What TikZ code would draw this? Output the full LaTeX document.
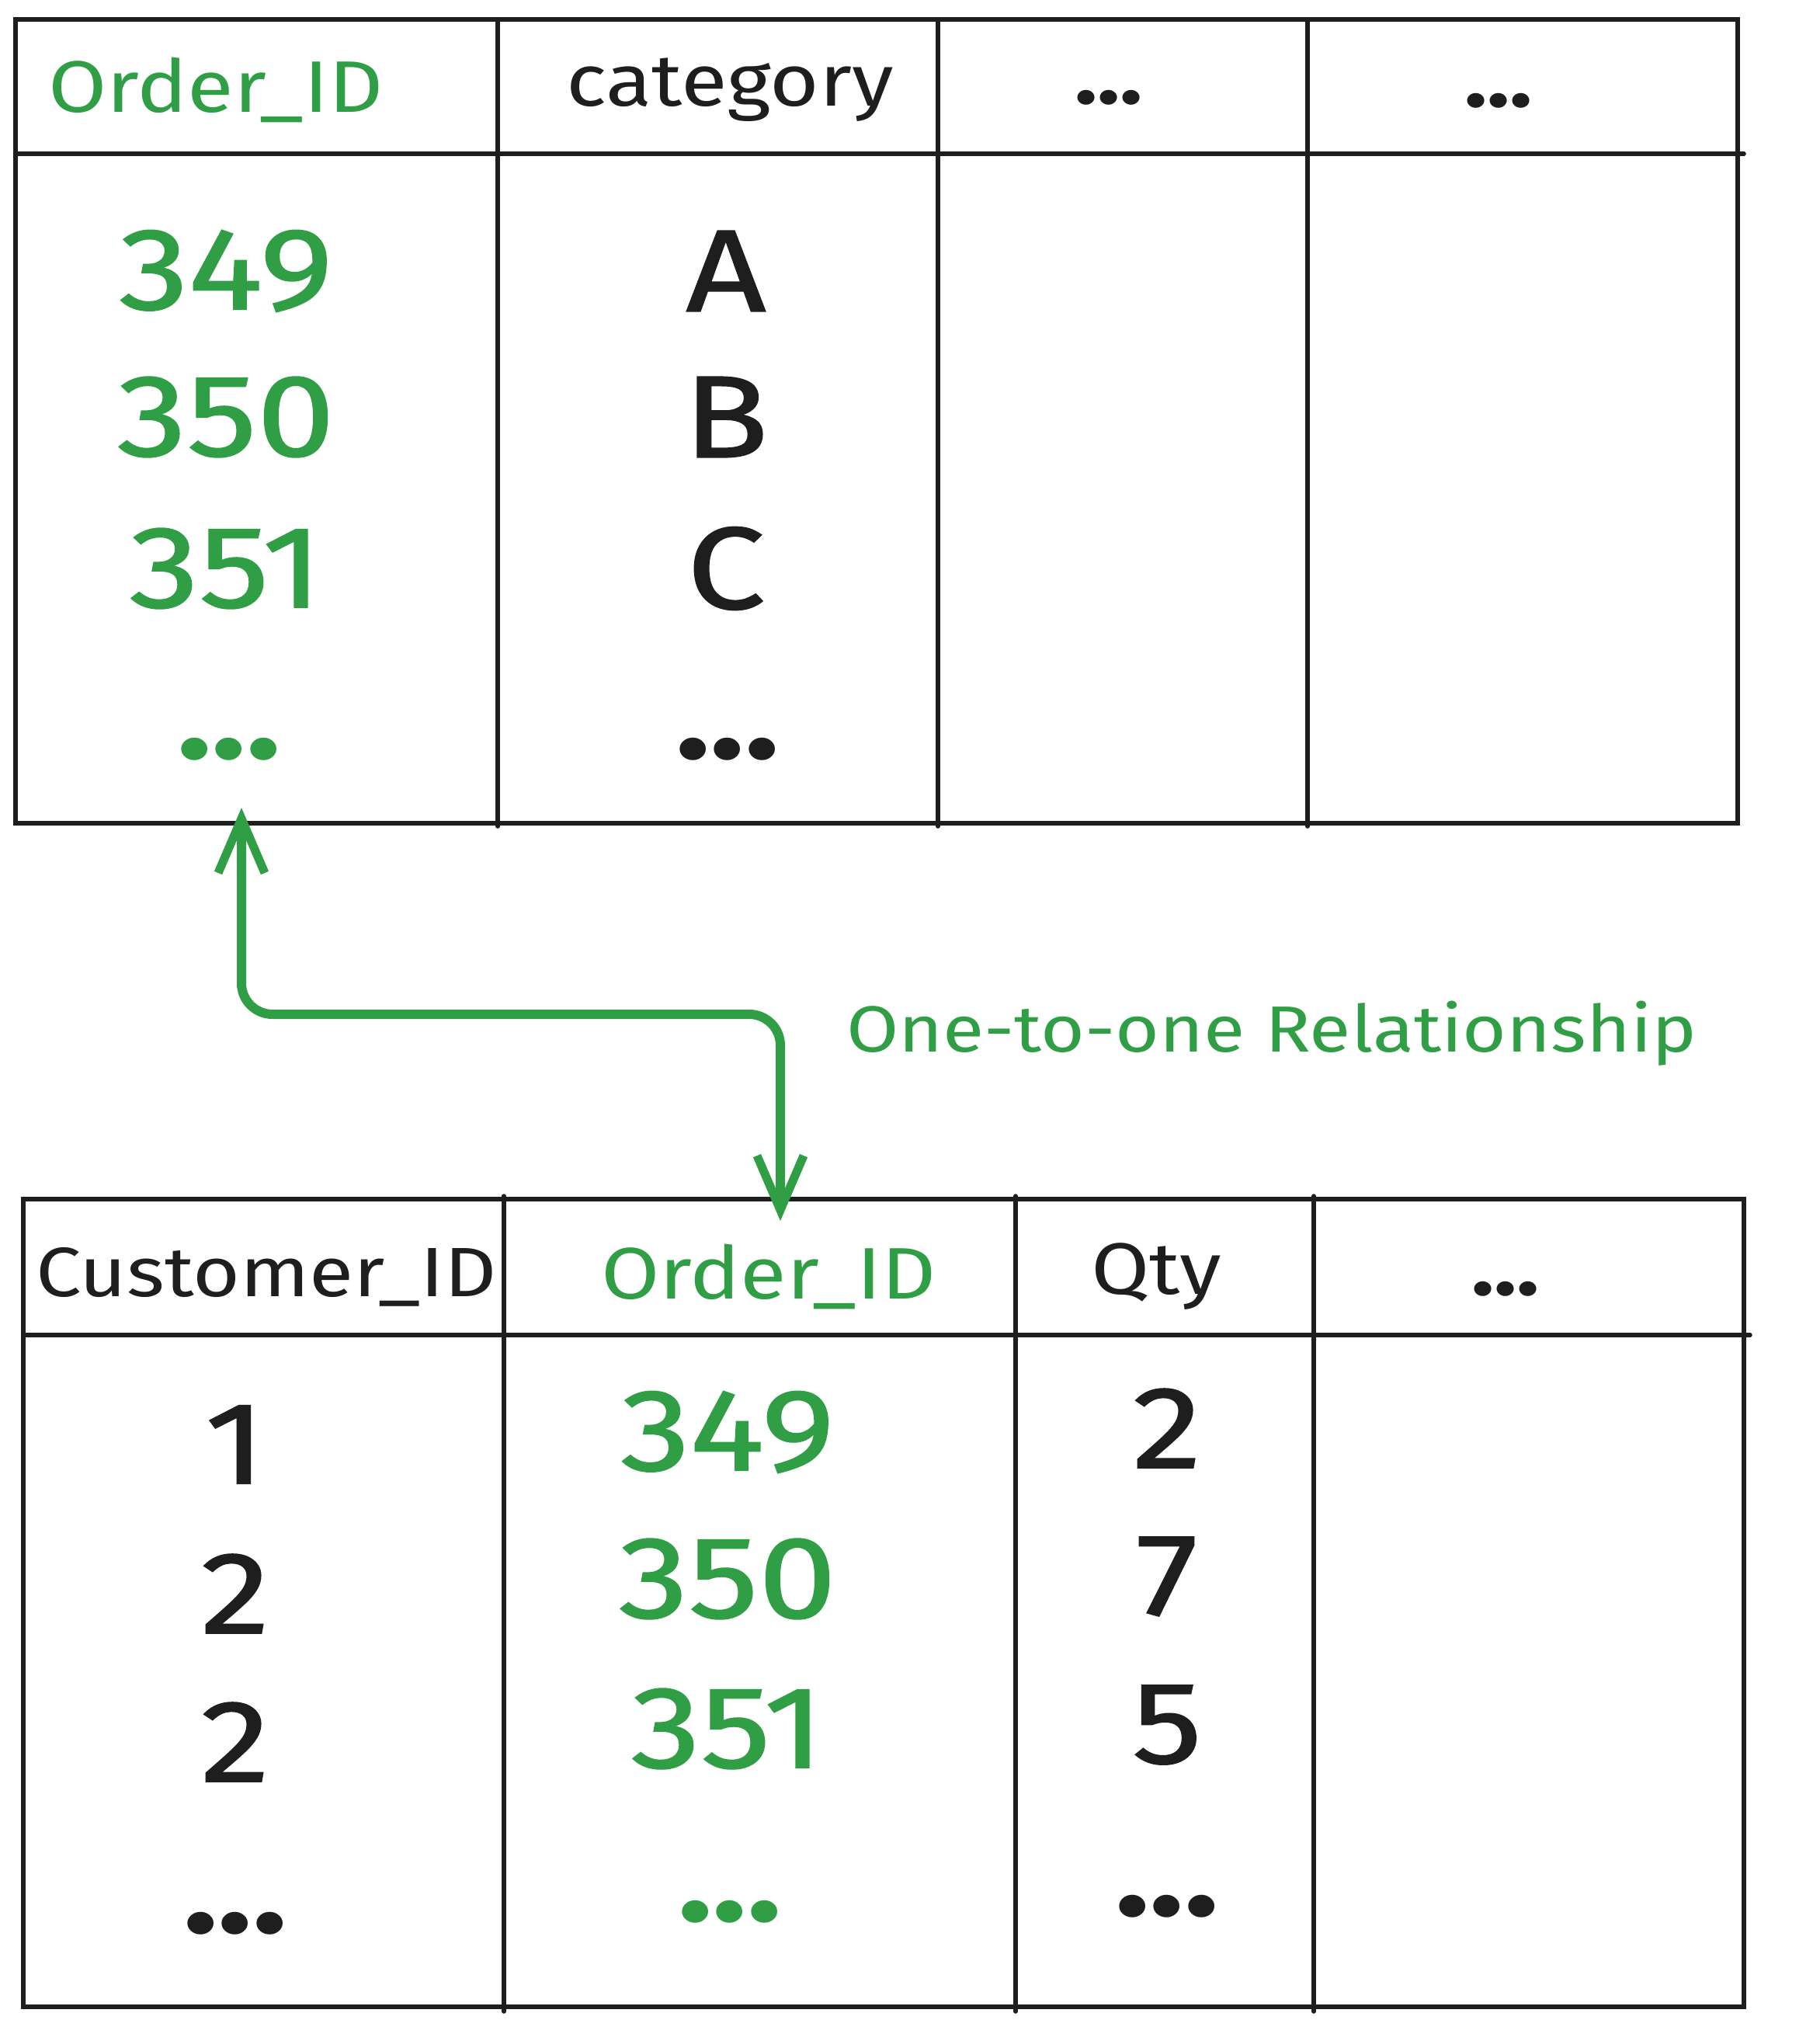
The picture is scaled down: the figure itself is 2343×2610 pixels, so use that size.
\documentclass[tikz,border=0pt]{standalone}
\usepackage{fontspec}
\setmainfont{Fira Sans}[FakeStretch=1.16]
\newfontfamily\bigfont{Fira Sans}[FakeStretch=1.2,FakeBold=1.2]
\usetikzlibrary{arrows.meta}
\definecolor{grn}{HTML}{2F9E44}
\definecolor{ink}{HTML}{1E1E1E}
\tikzset{
  grid/.style={draw=ink, line width=5.5pt, line cap=round},
  hdr/.style={inner sep=0pt, anchor=center, font=\fontsize{94}{100}\selectfont},
  big/.style={inner sep=0pt, anchor=center, font=\bigfont\fontsize{150}{160}\selectfont},
  dots/.style={inner sep=0pt, anchor=center, font=\bfseries\fontsize{160}{170}\selectfont},
  hdots/.style={inner sep=0pt, anchor=center, font=\bfseries\fontsize{105}{110}\selectfont},
  link/.style={draw=grn, line width=12pt, rounded corners=40pt, line cap=round,
    {Straight Barb[length=70pt,width=60pt,line width=11pt]}-{Straight Barb[length=70pt,width=60pt,line width=11pt]}},
  lbl/.style={inner sep=0pt, anchor=west, text=grn, font=\fontsize{84}{90}\selectfont}
}
\begin{document}
\begin{tikzpicture}[x=1pt,y=-1pt]
\useasboundingbox[fill=white] (0,0) rectangle (2343,2610);
% top table
\draw[grid] (20,25) rectangle (2238,1060);
\draw[grid] (20,198) -- (2246,198);
\foreach \x in {641,1208,1684} \draw[grid] (\x,25) -- (\x,1064);
\node[hdr, text=grn] (tOrd) at (278,116) {Order\_ID};
\node[hdr, text=ink] (tCat) at (940,116) {category};
\node[hdots, text=ink] (tD1) at (1428,126) {...};
\node[hdots, text=ink] (tD2) at (1930,130) {...};
\node[big, text=grn] (t349) at (291,349) {349};
\node[big, text=grn] (t350) at (291,537) {350};
\node[big, text=grn] (t351) at (291,732) {351};
\node[dots, text=grn] (tdots) at (295,965) {...};
\node[big, text=ink] (tA) at (935,349) {A};
\node[big, text=ink] (tB) at (935,537) {B};
\node[big, text=ink] (tC) at (935,732) {C};
\node[dots, text=ink] (tCd) at (937,965) {...};
% bottom table
\draw[grid] (30,1544) rectangle (2246,2584);
\draw[grid] (30,1719) -- (2254,1719);
\foreach \x in {649,1308,1692} \draw[grid] (\x,1540) -- (\x,2590);
\node[hdr, text=ink, font=\fontsize{90}{100}\selectfont] (bCust) at (343,1644) {Customer\_ID};
\node[hdr, text=grn] (bOrd) at (990,1644) {Order\_ID};
\node[hdr, text=ink] (bQty) at (1489,1644) {Qty};
\node[hdots, text=ink] (bD) at (1939,1660) {...};
\node[big, text=ink] (b1) at (303,1860) {1};
\node[big, text=ink] (b2) at (303,2052) {2};
\node[big, text=ink] (b2b) at (303,2243) {2};
\node[dots, text=ink] (b1d) at (303,2477) {...};
\node[big, text=grn] (b349) at (937,1844) {349};
\node[big, text=grn] (b350) at (937,2033) {350};
\node[big, text=grn] (b351) at (937,2226) {351};
\node[dots, text=grn] (b2d) at (940,2462) {...};
\node[big, text=ink] (q2) at (1503,1839) {2};
\node[big, text=ink] (q7) at (1503,2030) {7};
\node[big, text=ink] (q5) at (1503,2221) {5};
\node[dots, text=ink] (q3d) at (1503,2455) {...};
% relationship
\coordinate (upTip) at (311,1040);
\coordinate (downTip) at (1005,1572);
\draw[link] (upTip) -- (311,1306) -- (1005,1306) -- (downTip);
\node[lbl] (rel) at (1090,1331) {One-to-one Relationship};
\end{tikzpicture}
\end{document}
